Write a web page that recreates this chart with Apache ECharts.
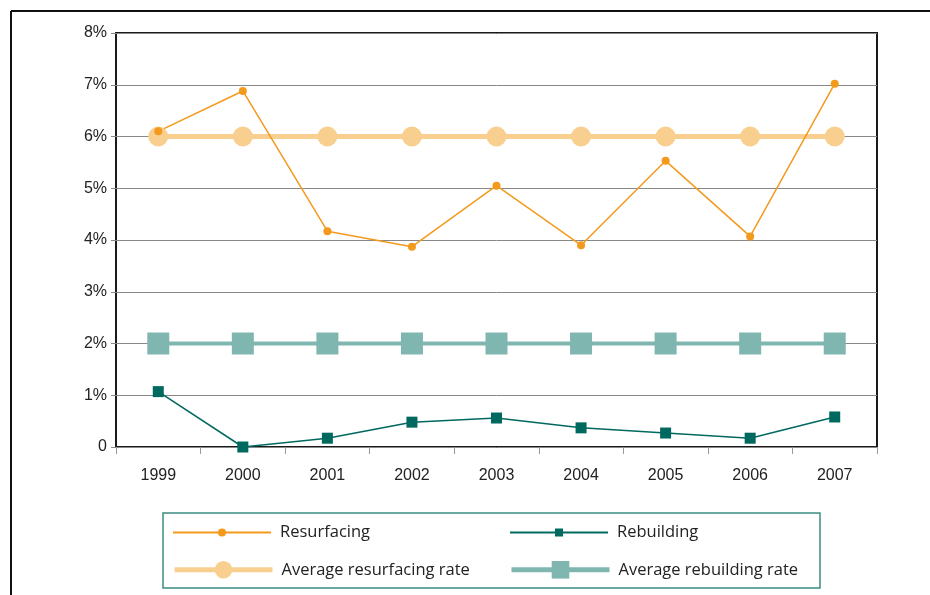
<!DOCTYPE html>
<html>
<head>
<meta charset="utf-8">
<script src="https://cdn.jsdelivr.net/npm/echarts@6/dist/echarts.min.js"></script>
<style>
  html, body { margin: 0; padding: 0; background: #fff; }
  #chart { width: 930px; height: 595px; }
</style>
</head>
<body>
<div id="chart"></div>
<script>
var years = ['1999', '2000', '2001', '2002', '2003', '2004', '2005', '2006', '2007'];
var resurfacing = [6.1, 6.88, 4.17, 3.87, 5.05, 3.9, 5.53, 4.07, 7.02];
var rebuilding = [1.07, 0, 0.17, 0.48, 0.56, 0.37, 0.27, 0.17, 0.58];
var avgResurfacing = [6, 6, 6, 6, 6, 6, 6, 6, 6];
var avgRebuilding = [2, 2, 2, 2, 2, 2, 2, 2, 2];

var cOrange = '#f39a1d', cOrangeLight = '#f9cf8f';
var cTeal = '#00695f', cTealLight = '#80b6b0';

function oneLegend(name, left, top, h, lw) {
  return {
    data: [name], left: left, top: top, padding: 0,
    itemWidth: 98, itemHeight: h, itemGap: 0,
    lineStyle: { width: lw },
    textStyle: { fontFamily: 'Open Sans', fontSize: 16.5, color: '#222', padding: [0, 0, 0, 4] }
  };
}

var option = {
  animation: false,
  grid: { left: 116, right: 53, top: 33, bottom: 148, show: true, borderColor: '#1a1a1a', borderWidth: 2 },
  xAxis: {
    type: 'category',
    data: years,
    axisLine: { show: false },
    axisTick: { show: true, length: 7, lineStyle: { color: '#999' } },
    axisLabel: { margin: 21, fontFamily: 'Liberation Sans', fontSize: 16, color: '#222' }
  },
  yAxis: {
    type: 'value', min: 0, max: 8, interval: 1,
    axisLine: { show: false },
    axisTick: { show: true, length: 5, lineStyle: { color: '#888' } },
    splitLine: { lineStyle: { color: '#888', width: 1 } },
    axisLabel: {
      margin: 9, fontFamily: 'Liberation Sans', fontSize: 16, color: '#222',
      formatter: function (v) { return v === 0 ? '0' : v + '%'; }
    }
  },
  legend: [
    oneLegend('Resurfacing', 172, 524, 10, 2),
    oneLegend('Rebuilding', 509, 524, 10, 2),
    oneLegend('Average resurfacing rate', 172, 561, 22, 5),
    oneLegend('Average rebuilding rate', 509, 561, 22, 5)
  ],
  graphic: [
    { type: 'line', shape: { x1: 11, y1: 11, x2: 930, y2: 11 }, style: { stroke: '#111', lineWidth: 2 } },
    { type: 'line', shape: { x1: 11, y1: 11, x2: 11, y2: 595 }, style: { stroke: '#111', lineWidth: 2 } },
    { type: 'rect', shape: { x: 163, y: 513, width: 657, height: 75 }, style: { fill: 'none', stroke: '#3d8c84', lineWidth: 1.5 } }
  ],
  series: [
    {
      name: 'Average resurfacing rate', type: 'line', data: avgResurfacing,
      symbol: 'circle', symbolSize: 20,
      lineStyle: { color: cOrangeLight, width: 5 }, itemStyle: { color: cOrangeLight }
    },
    {
      name: 'Average rebuilding rate', type: 'line', data: avgRebuilding,
      symbol: 'rect', symbolSize: 22,
      lineStyle: { color: cTealLight, width: 4 }, itemStyle: { color: cTealLight }
    },
    {
      name: 'Resurfacing', type: 'line', data: resurfacing,
      symbol: 'circle', symbolSize: 8,
      lineStyle: { color: cOrange, width: 1.5 }, itemStyle: { color: cOrange }
    },
    {
      name: 'Rebuilding', type: 'line', data: rebuilding,
      symbol: 'rect', symbolSize: 11, clip: false,
      lineStyle: { color: cTeal, width: 1.5 }, itemStyle: { color: cTeal }
    }
  ]
};

var myChart = echarts.init(document.getElementById('chart'));
myChart.setOption(option);
</script>
</body>
</html>
